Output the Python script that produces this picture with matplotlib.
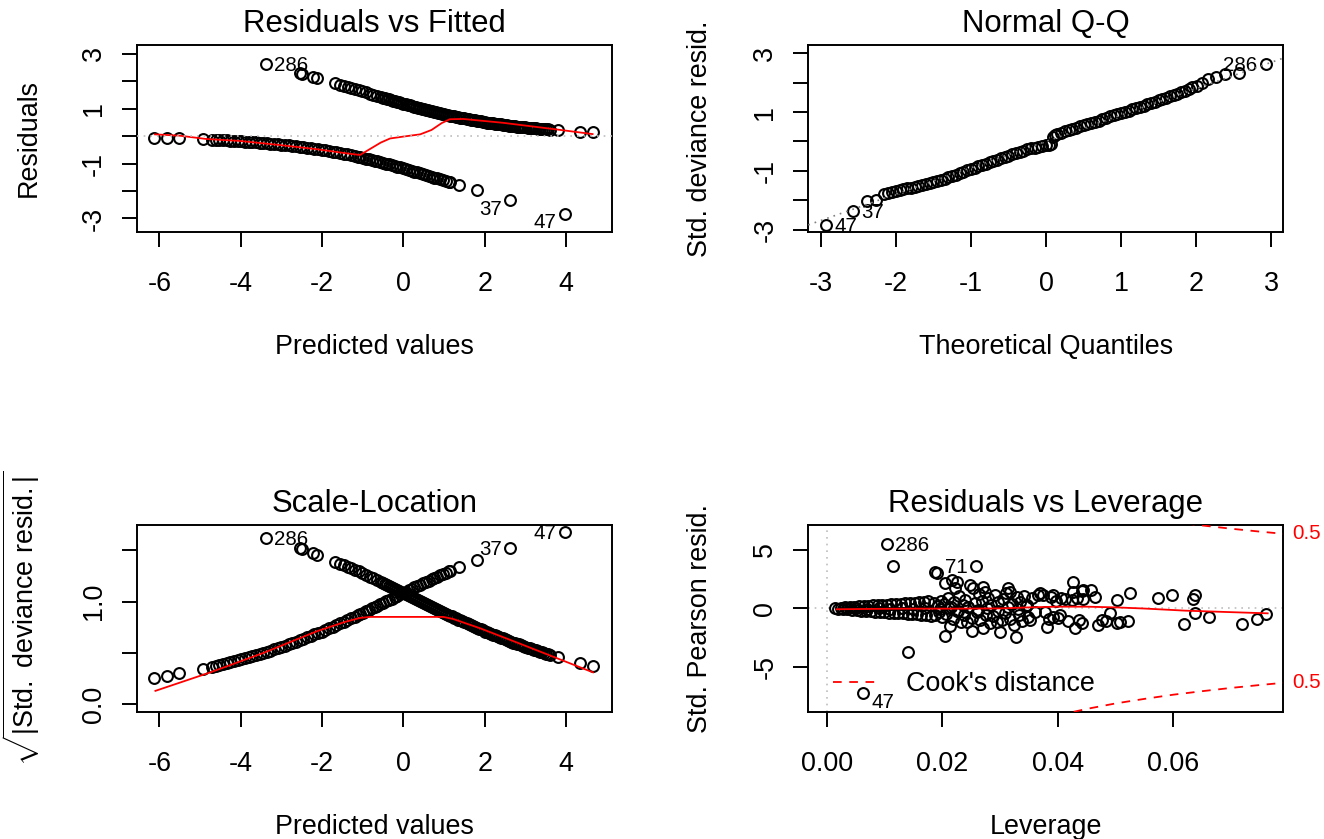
import matplotlib
matplotlib.use("Agg")
import matplotlib.pyplot as plt
import numpy as np
from matplotlib.lines import Line2D

# ---- Residuals vs Fitted: observations with y = 1 (upper branch) ----
fitted_pos = np.array([
    -3.39, -2.54, -2.50, -2.23, -2.12, -1.68, -1.55, -1.46, -1.37, -1.28,
    -1.19, -1.10, -1.01, -0.92, -0.83, -0.74, -0.65, -0.56, -0.50, -0.45,
    -0.40, -0.35, -0.30, -0.25, -0.20, -0.15, -0.10, -0.05, 0.00, 0.05,
    0.10, 0.15, 0.20, 0.25, 0.30, 0.35, 0.40, 0.45, 0.50, 0.55,
    0.60, 0.65, 0.70, 0.75, 0.80, 0.85, 0.90, 0.95, 1.00, 1.05,
    1.10, 1.15, 1.20, 1.25, 1.30, 1.35, 1.40, 1.45, 1.50, 1.55,
    1.60, 1.65, 1.70, 1.75, 1.80, 1.85, 1.90, 1.95, 2.00, 2.05,
    2.10, 2.15, 2.20, 2.25, 2.30, 2.35, 2.40, 2.45, 2.50, 2.55,
    2.60, 2.65, 2.70, 2.75, 2.80, 2.85, 2.90, 2.95, 3.00, 3.05,
    3.10, 3.15, 3.20, 3.25, 3.30, 3.35, 3.40, 3.45, 3.50, 3.55,
    3.60, 3.80, 4.35, 4.65])
resid_pos = np.array([
    2.62, 2.30, 2.27, 2.16, 2.12, 1.93, 1.87, 1.83, 1.79, 1.75,
    1.71, 1.67, 1.63, 1.59, 1.54, 1.50, 1.46, 1.42, 1.40, 1.37,
    1.35, 1.33, 1.31, 1.29, 1.26, 1.24, 1.22, 1.20, 1.18, 1.16,
    1.13, 1.11, 1.09, 1.07, 1.05, 1.03, 1.01, 0.99, 0.97, 0.95,
    0.94, 0.92, 0.90, 0.88, 0.86, 0.84, 0.83, 0.81, 0.79, 0.78,
    0.76, 0.74, 0.73, 0.71, 0.70, 0.68, 0.67, 0.65, 0.64, 0.62,
    0.61, 0.59, 0.58, 0.57, 0.55, 0.54, 0.53, 0.52, 0.50, 0.49,
    0.48, 0.47, 0.46, 0.45, 0.44, 0.43, 0.42, 0.41, 0.40, 0.39,
    0.38, 0.37, 0.36, 0.35, 0.34, 0.34, 0.33, 0.32, 0.31, 0.30,
    0.30, 0.29, 0.28, 0.28, 0.27, 0.26, 0.26, 0.25, 0.24, 0.24,
    0.23, 0.21, 0.16, 0.14])

# ---- observations with y = 0 (lower branch) ----
fitted_neg = np.array([
    -6.13, -5.82, -5.51, -4.93, -4.71, -4.62, -4.53, -4.44, -4.35, -4.26,
    -4.17, -4.08, -3.99, -3.90, -3.81, -3.72, -3.63, -3.54, -3.45, -3.36,
    -3.27, -3.18, -3.09, -3.00, -2.91, -2.82, -2.73, -2.64, -2.55, -2.46,
    -2.37, -2.28, -2.19, -2.10, -2.01, -1.92, -1.83, -1.74, -1.65, -1.56,
    -1.47, -1.38, -1.29, -1.20, -1.13, -1.06, -0.99, -0.92, -0.85, -0.78,
    -0.71, -0.64, -0.57, -0.50, -0.43, -0.36, -0.29, -0.22, -0.15, -0.08,
    -0.01, 0.06, 0.13, 0.20, 0.27, 0.34, 0.41, 0.48, 0.55, 0.62,
    0.69, 0.76, 0.83, 0.90, 0.97, 1.04, 1.11, 1.14, 1.37, 1.81,
    2.63, 3.97])
resid_neg = np.array([
    -0.066, -0.077, -0.090, -0.120, -0.134, -0.140, -0.146, -0.153, -0.160, -0.167,
    -0.175, -0.183, -0.191, -0.200, -0.209, -0.219, -0.229, -0.239, -0.250, -0.261,
    -0.273, -0.285, -0.298, -0.312, -0.326, -0.340, -0.356, -0.371, -0.388, -0.405,
    -0.423, -0.441, -0.461, -0.481, -0.501, -0.523, -0.546, -0.569, -0.593, -0.618,
    -0.643, -0.670, -0.697, -0.726, -0.748, -0.771, -0.795, -0.819, -0.844, -0.869,
    -0.894, -0.920, -0.947, -0.974, -1.001, -1.029, -1.057, -1.086, -1.114, -1.144,
    -1.173, -1.203, -1.233, -1.263, -1.294, -1.325, -1.356, -1.387, -1.418, -1.449,
    -1.481, -1.512, -1.544, -1.576, -1.607, -1.639, -1.670, -1.684, -1.787, -1.981,
    -2.324, -2.824])

# red smoother, Residuals vs Fitted
fit_smooth_x = [-6.11, -5.49, -4.84, -4.02, -3.03, -2.13, -1.40, -1.07, -0.82, -0.56,
                -0.33, 0.00, 0.41, 0.69, 0.94, 1.14, 1.47, 2.45, 3.76, 4.65]
fit_smooth_y = [0.06, 0.01, -0.11, -0.18, -0.33, -0.48, -0.63, -0.69, -0.47, -0.24,
                -0.09, -0.02, 0.06, 0.22, 0.47, 0.61, 0.62, 0.48, 0.24, 0.07]

# red smoother, Scale-Location
sl_smooth_x = [-6.10, -4.75, -3.44, -2.13, -1.45, -1.07, -0.82, -0.58, 0.98, 1.22,
               1.88, 2.86, 3.76, 4.66]
sl_smooth_y = [0.13, 0.31, 0.50, 0.71, 0.80, 0.84, 0.85, 0.85, 0.85, 0.83,
               0.74, 0.59, 0.45, 0.31]

# ---- Normal Q-Q ----
qq_theo = [
    -2.93, -2.57, -2.39, -2.26, -2.16,
    -2.10, -2.05, -2.00, -1.95, -1.90, -1.85, -1.80, -1.75, -1.70, -1.65,
    -1.60, -1.55, -1.50, -1.45, -1.40, -1.35, -1.30, -1.25, -1.20, -1.15,
    -1.10, -1.05, -1.00, -0.95, -0.90, -0.85, -0.80, -0.75, -0.70, -0.65,
    -0.60, -0.55, -0.50, -0.45, -0.40, -0.35, -0.30, -0.25, -0.20, -0.15,
    -0.10, -0.05, 0.00, 0.04, 0.07,
    0.10, 0.12, 0.15,
    0.20, 0.25, 0.30, 0.35, 0.40, 0.45, 0.50, 0.55, 0.60, 0.65,
    0.70, 0.75, 0.80, 0.85, 0.90, 0.95, 1.00, 1.05, 1.10, 1.15,
    1.20, 1.25, 1.30, 1.35, 1.40, 1.45, 1.50, 1.55, 1.60, 1.65,
    1.70, 1.75, 1.80, 1.85, 1.90, 1.95,
    2.01, 2.08, 2.16, 2.26, 2.39, 2.57, 2.93]
qq_sample = [
    -2.85, -2.36, -2.02, -1.99, -1.80,
    -1.74, -1.71, -1.68, -1.66, -1.63, -1.60, -1.57, -1.54, -1.51, -1.48,
    -1.45, -1.41, -1.38, -1.35, -1.31, -1.27, -1.22, -1.18, -1.13, -1.08,
    -1.03, -0.98, -0.93, -0.89, -0.85, -0.80, -0.76, -0.71, -0.67, -0.62,
    -0.58, -0.53, -0.48, -0.43, -0.39, -0.35, -0.31, -0.27, -0.24, -0.21,
    -0.18, -0.15, -0.13, -0.11, -0.09,
    0.15, 0.21, 0.26,
    0.30, 0.34, 0.38, 0.42, 0.47, 0.51, 0.55, 0.59, 0.63, 0.67,
    0.71, 0.76, 0.81, 0.86, 0.90, 0.93, 0.97, 1.01, 1.05, 1.09,
    1.14, 1.18, 1.22, 1.26, 1.31, 1.35, 1.40, 1.44, 1.49, 1.53,
    1.58, 1.63, 1.68, 1.73, 1.78, 1.84,
    1.90, 1.98, 2.14, 2.19, 2.29, 2.33, 2.64]
qq_line_slope = 0.897
qq_line_intercept = 0.0

# ---- Residuals vs Leverage (first three are the labelled 286, 71, 47) ----
lev_h = [
    0.0104, 0.0258, 0.0062,
    0.0015, 0.0020, 0.0024, 0.0028, 0.0032, 0.0036, 0.0040, 0.0044, 0.0048, 0.0052,
    0.0056, 0.0060, 0.0064, 0.0068, 0.0072, 0.0076, 0.0080, 0.0084, 0.0088, 0.0092,
    0.0096, 0.0100, 0.0104, 0.0108, 0.0112, 0.0116, 0.0120, 0.0124, 0.0128, 0.0132,
    0.0136, 0.0140, 0.0144, 0.0148, 0.0152, 0.0156, 0.0160, 0.0164, 0.0168, 0.0172,
    0.0176, 0.0180,
    0.0050, 0.0070, 0.0090, 0.0110, 0.0130, 0.0150, 0.0170,
    0.0114, 0.0140, 0.0187, 0.0190,
    0.0185, 0.0188, 0.0192, 0.0195, 0.0198, 0.0200, 0.0203, 0.0205, 0.0205, 0.0207,
    0.0210, 0.0213, 0.0215, 0.0216, 0.0218, 0.0220, 0.0222, 0.0225, 0.0226, 0.0229,
    0.0232, 0.0235, 0.0238, 0.0240, 0.0242, 0.0245, 0.0248, 0.0251, 0.0252, 0.0254,
    0.0256, 0.0260, 0.0263, 0.0266, 0.0268, 0.0271, 0.0271, 0.0274, 0.0276, 0.0279,
    0.0283, 0.0285, 0.0288, 0.0291, 0.0294, 0.0297, 0.0300, 0.0303, 0.0305, 0.0308,
    0.0311, 0.0314, 0.0317, 0.0318, 0.0321, 0.0324, 0.0327, 0.0329, 0.0332, 0.0335,
    0.0338, 0.0341, 0.0345, 0.0349, 0.0352, 0.0356, 0.0360, 0.0365, 0.0369, 0.0375,
    0.0378, 0.0381, 0.0384, 0.0388, 0.0392, 0.0392, 0.0397, 0.0401, 0.0404, 0.0406,
    0.0412, 0.0417, 0.0424, 0.0426, 0.0427, 0.0430, 0.0433, 0.0437, 0.0441, 0.0441,
    0.0444, 0.0444, 0.0458, 0.0464, 0.0470, 0.0476, 0.0484, 0.0491, 0.0502, 0.0502,
    0.0507, 0.0522, 0.0525, 0.0574, 0.0597, 0.0618, 0.0634, 0.0637, 0.0637, 0.0662,
    0.0718, 0.0744, 0.0760,
    0.0196, 0.0212, 0.0228, 0.0244, 0.0262, 0.0278, 0.0296, 0.0313, 0.0331, 0.0347]
lev_r = [
    5.51, 3.66, -7.23,
    0.00, -0.04, 0.05, -0.07, 0.08, -0.10, 0.10, -0.13, 0.14, -0.16,
    0.17, -0.19, 0.20, -0.22, 0.22, -0.25, 0.25, -0.28, 0.27, -0.30,
    0.30, -0.33, 0.32, -0.36, 0.35, -0.38, 0.37, -0.41, 0.40, -0.44,
    0.43, -0.47, 0.46, -0.50, 0.49, -0.53, 0.52, -0.56, 0.56, -0.60,
    0.60, -0.63,
    0.02, -0.03, 0.03, -0.04, 0.04, -0.05, 0.06,
    3.66, -3.71, 3.14, 3.00,
    0.45, -0.55, 0.20, -0.30, 0.65, -0.75, 0.35, -2.37, 2.14, -0.45,
    0.85, -1.51, 0.10, 2.43, -0.95, 0.55, 1.71, 2.29, -0.25, 1.05,
    -1.15, 0.30, -0.60, 0.75, -1.14, 0.15, 2.00, -1.94, -0.80, 1.71,
    0.45, -0.35, 1.20, -1.00, 0.60, -1.71, 1.86, 1.43, -0.55, 0.90,
    -1.29, 0.25, -0.70, 1.10, -1.20, 0.50, -2.00, -1.00, 0.80, -0.40,
    1.30, 1.71, 1.43, -0.90, 0.35, -1.45, -2.43, 0.95, -0.60, 0.55,
    -1.10, 1.05, 0.20, -0.71, -1.00, 0.85, -0.30, 1.10, 1.29, 1.14,
    -0.29, -1.57, -0.95, 0.95, 1.14, -0.71, 0.60, -0.86, -0.57, 0.86,
    0.77, -1.05, 0.71, 2.23, 1.43, -1.71, 0.86, -1.00, 1.51, -1.29,
    1.57, 0.77, 1.57, 1.00, -1.43, -1.00, -1.06, -0.43, 0.71, -1.23,
    -1.14, -1.06, 1.29, 0.91, 1.14, -1.34, 0.77, 1.14, -0.37, -0.71,
    -1.34, -0.89, -0.51,
    -0.10, 0.05, -0.20, 0.10, -0.15, 0.00, -0.25, 0.12, -0.05, 0.30]

lev_smooth_h = [0.0017, 0.008, 0.015, 0.022, 0.030, 0.035, 0.040, 0.045, 0.050, 0.055,
                0.062, 0.070, 0.0763]
lev_smooth_r = [-0.08, -0.05, -0.03, -0.03, -0.01, 0.08, 0.14, 0.14, 0.08, -0.02,
                -0.20, -0.33, -0.43]

# Cook's distance 0.5 contour (|std. Pearson resid.| against leverage)
cook_h = [0.040, 0.045, 0.050, 0.055, 0.060, 0.065, 0.070, 0.075, 0.080]
cook_r = [9.17, 8.62, 8.15, 7.76, 7.40, 7.10, 6.82, 6.57, 6.34]
cook_label_r = 6.39

plt.rcParams["font.family"] = ["Liberation Sans", "DejaVu Sans"]
plt.rcParams["axes.unicode_minus"] = False
plt.rcParams["mathtext.fontset"] = "custom"
plt.rcParams["mathtext.rm"] = "Liberation Sans"
plt.rcParams["mathtext.it"] = "Liberation Sans:italic"

PX = 0.72  # points per pixel at dpi 100
TICK_FS = 19.4
TITLE_FS = 22.4
ID_FS = 14.8
RED = "#FF0000"

fig = plt.figure(figsize=(13.24, 8.39), dpi=100)
ax1 = fig.add_axes([0.10325, 0.72384, 0.35876, 0.22253])
ax2 = fig.add_axes([0.61050, 0.72384, 0.35876, 0.22253])
ax3 = fig.add_axes([0.10325, 0.15173, 0.35876, 0.22253])
ax4 = fig.add_axes([0.61050, 0.15173, 0.35876, 0.22253])


def style(ax, xlim, ylim, xt, xtl, yt, ytl, title, xlabel, ylabel):
    ax.set_xlim(xlim)
    ax.set_ylim(ylim)
    ax.set_xticks(xt)
    ax.set_xticklabels(xtl)
    ax.set_yticks(yt)
    ax.set_yticklabels(ytl, rotation=90, va="center")
    ax.tick_params(direction="out", length=15 * PX, width=1.4, labelsize=TICK_FS)
    ax.tick_params(axis="x", pad=24 * PX)
    ax.tick_params(axis="y", pad=15 * PX)
    for s in ax.spines.values():
        s.set_linewidth(1.4)
    ax.set_title(title, fontsize=TITLE_FS, pad=13 * PX)
    ax.set_xlabel(xlabel, fontsize=TICK_FS)
    ax.xaxis.set_label_coords(0.5, -0.55)
    ax.set_ylabel(ylabel, fontsize=TICK_FS)
    ax.yaxis.set_label_coords(-0.2, 0.5)


def points(ax, x, y):
    ax.plot(x, y, "o", ls="none", mfc="none", mec="black", ms=7.8, mew=1.5, zorder=2)


def ident(ax, x, y, text, side, drop=0.0):
    dx = 8.5 if side == "right" else -8.5
    ax.annotate(text, (x, y), xytext=(dx * PX, (-7.2 - drop) * PX),
                textcoords="offset points", ha="left" if side == "right" else "right",
                va="baseline", fontsize=ID_FS, annotation_clip=False)


# 1: Residuals vs Fitted
points(ax1, fitted_pos, resid_pos)
points(ax1, fitted_neg, resid_neg)
ax1.plot(fit_smooth_x, fit_smooth_y, color=RED, lw=1.3, zorder=3)
ax1.axhline(0, color="#BEBEBE", lw=1.2, dashes=(1, 3), zorder=4)
ident(ax1, fitted_pos[0], resid_pos[0], "286", "right")
ident(ax1, fitted_neg[-2], resid_neg[-2], "37", "left", drop=7.5)
ident(ax1, fitted_neg[-1], resid_neg[-1], "47", "left", drop=7.5)
style(ax1, (-6.56, 5.12), (-3.48, 3.31), [-6, -4, -2, 0, 2, 4],
      ["-6", "-4", "-2", "0", "2", "4"], list(range(-3, 4)),
      ["-3", "", "-1", "", "1", "", "3"], "Residuals vs Fitted",
      "Predicted values", "Residuals")

# 2: Normal Q-Q
points(ax2, qq_theo, qq_sample)
ax2.axline((0, qq_line_intercept), slope=qq_line_slope, color="#7F7F7F", lw=1.2,
           dashes=(1, 3), zorder=4)
ident(ax2, qq_theo[0], qq_sample[0], "47", "right")
ident(ax2, qq_theo[1], qq_sample[1], "37", "right")
ident(ax2, qq_theo[-1], qq_sample[-1], "286", "left")
style(ax2, (-3.165, 3.16), (-3.07, 3.28), list(range(-3, 4)),
      ["-3", "-2", "-1", "0", "1", "2", "3"], list(range(-3, 4)),
      ["-3", "", "-1", "", "1", "", "3"], "Normal Q-Q",
      "Theoretical Quantiles", "Std. deviance resid.")

# 3: Scale-Location
sl_pos = np.sqrt(np.abs(resid_pos))
sl_neg = np.sqrt(np.abs(resid_neg))
points(ax3, fitted_pos, sl_pos)
points(ax3, fitted_neg, sl_neg)
ax3.plot(sl_smooth_x, sl_smooth_y, color=RED, lw=1.3, zorder=3)
ident(ax3, fitted_pos[0], sl_pos[0], "286", "right")
ident(ax3, fitted_neg[-2], sl_neg[-2], "37", "left")
ident(ax3, fitted_neg[-1], sl_neg[-1], "47", "left")
style(ax3, (-6.56, 5.12), (-0.073, 1.745), [-6, -4, -2, 0, 2, 4],
      ["-6", "-4", "-2", "0", "2", "4"], [0.0, 0.5, 1.0, 1.5],
      ["0.0", "", "1.0", ""], "Scale-Location", "Predicted values",
      r"$\sqrt{|\mathrm{Std.\ deviance\ resid.}|}$")

# 4: Residuals vs Leverage
points(ax4, lev_h, lev_r)
ax4.axhline(0, color="#BEBEBE", lw=1.2, dashes=(1, 3), zorder=1)
ax4.axvline(0, color="#BEBEBE", lw=1.2, dashes=(1, 3), zorder=1)
ax4.plot(lev_smooth_h, lev_smooth_r, color=RED, lw=1.3, zorder=3)
cook_r = np.array(cook_r)
ax4.plot(cook_h, cook_r, color=RED, lw=1.3, dashes=(4.8, 4.2), zorder=3)
ax4.plot(cook_h, -cook_r, color=RED, lw=1.3, dashes=(4.8, 4.2), zorder=3)
for v in (cook_label_r, -cook_label_r):
    ax4.annotate("0.5", (1, v), xycoords=ax4.get_yaxis_transform(),
                 xytext=(9 * PX, 0), textcoords="offset points", ha="left",
                 va="center", color=RED, fontsize=ID_FS, annotation_clip=False)
ident(ax4, lev_h[0], lev_r[0], "286", "right")
ident(ax4, lev_h[1], lev_r[1], "71", "left")
ident(ax4, lev_h[2], lev_r[2], "47", "right", drop=8.0)
ax4.legend([Line2D([], [], color=RED, lw=1.3, dashes=(4.8, 4.2))], ["Cook's distance"],
           loc="lower left", bbox_to_anchor=(0.0526, 0.078), frameon=False,
           fontsize=TICK_FS, borderpad=0, borderaxespad=0, handlelength=1.55,
           handletextpad=1.15)
style(ax4, (-0.00318, 0.0790), (-8.86, 7.14), [0.0, 0.02, 0.04, 0.06],
      ["0.00", "0.02", "0.04", "0.06"], [-5, 0, 5], ["-5", "0", "5"],
      "Residuals vs Leverage", "Leverage", "Std. Pearson resid.")

fig.savefig("out.png", dpi=100)
